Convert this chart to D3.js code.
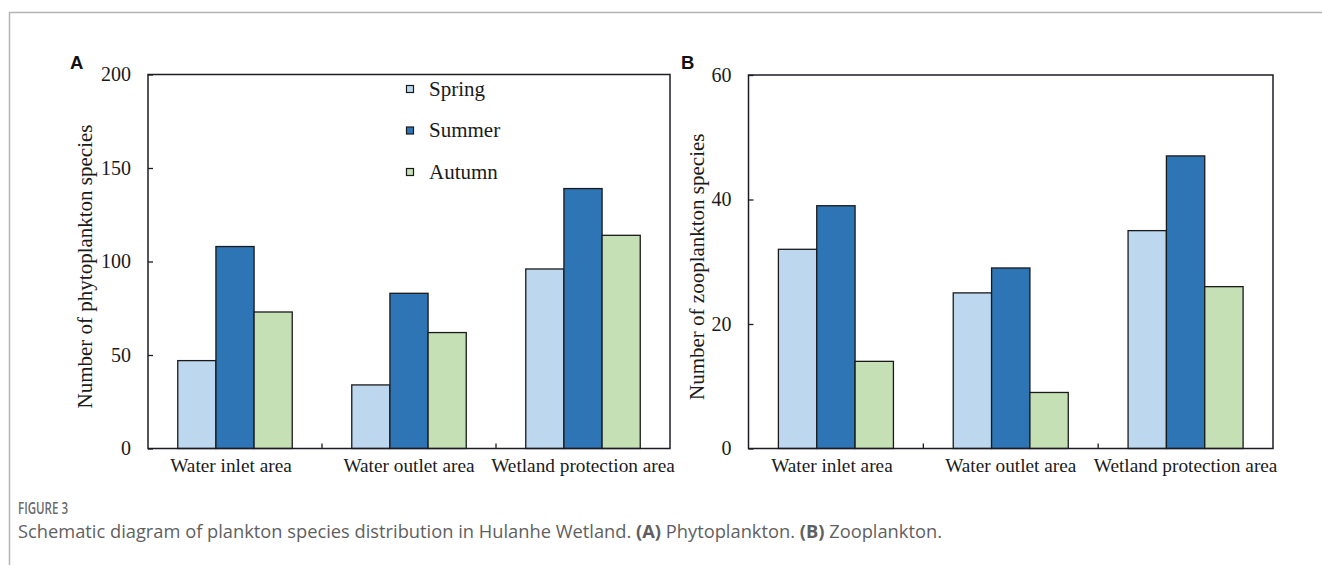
<!DOCTYPE html>
<html>
<head>
<meta charset="utf-8">
<script src="https://cdn.jsdelivr.net/npm/d3@7/dist/d3.min.js"></script>
<style>
  html, body { margin: 0; padding: 0; background: #ffffff; }
  svg { display: block; }
</style>
</head>
<body>
<svg id="fig" width="1322" height="565"></svg>
<script>
// Sampling areas and seasons
const categories = ["Water inlet area", "Water outlet area", "Wetland protection area"];
const seasons = ["Spring", "Summer", "Autumn"];

// Number of phytoplankton species per area
const phytoSpring = [47, 34, 96];
const phytoSummer = [108, 83, 139];
const phytoAutumn = [73, 62, 114];

// Number of zooplankton species per area
const zooSpring = [32, 25, 35];
const zooSummer = [39, 29, 47];
const zooAutumn = [14, 9, 26];

// Axis ticks
const phytoTicks = [0, 50, 100, 150, 200];
const zooTicks = [0, 20, 40, 60];

const seasonColors = ["#bdd7ee", "#2e75b6", "#c5e0b4"];
const serif = "'Liberation Serif', 'Times New Roman', serif";
const axisColor = "#1c1c24";

const svg = d3.select("#fig");

// Page frame
svg.append("line").attr("x1", 9).attr("x2", 1322).attr("y1", 12.5).attr("y2", 12.5)
  .attr("stroke", "#b4b4b4").attr("stroke-width", 1.5);
svg.append("line").attr("x1", 9.5).attr("x2", 9.5).attr("y1", 12).attr("y2", 565)
  .attr("stroke", "#b4b4b4").attr("stroke-width", 1.5);

function drawPanel(opts) {
  const { left, right, top, bottom, series, domainMax, ticks, title, titleX, letter, letterX } = opts;
  const g = svg.append("g");

  const x0 = d3.scaleBand().domain(categories).range([left, right]).padding(0);
  const x1 = d3.scaleBand().domain(seasons).range([0, x0.bandwidth()]).paddingInner(0).paddingOuter(0.78);
  const y = d3.scaleLinear().domain([0, domainMax]).range([bottom, top]);

  // Bars
  const rows = categories.map((c, i) => ({ cat: c, vals: seasons.map((s, j) => ({ s, v: series[j][i], j })) }));
  const grp = g.selectAll("g.grp").data(rows).join("g")
    .attr("transform", d => `translate(${x0(d.cat)},0)`);
  grp.selectAll("rect").data(d => d.vals).join("rect")
    .attr("x", d => x1(d.s))
    .attr("y", d => y(d.v))
    .attr("width", x1.bandwidth())
    .attr("height", d => y(0) - y(d.v))
    .attr("fill", d => seasonColors[d.j])
    .attr("stroke", "#1a1a1a")
    .attr("stroke-width", 1.3);

  // Left axis with inward ticks
  const yAxis = d3.axisLeft(y).tickValues(ticks).tickSize(-5).tickPadding(17).tickFormat(d3.format("d"));
  const ya = g.append("g").attr("transform", `translate(${left},0)`).call(yAxis);
  ya.select(".domain").remove();
  ya.selectAll(".tick line").attr("stroke", axisColor).attr("stroke-width", 1.3);
  ya.selectAll(".tick text").attr("font-family", serif).attr("font-size", 20).attr("fill", "#1a1a1a");

  // Bottom axis: category labels, boundary ticks pointing inward
  const xAxis = d3.axisBottom(x0).tickSize(0).tickPadding(10);
  const xa = g.append("g").attr("transform", `translate(0,${bottom})`).call(xAxis);
  xa.select(".domain").remove();
  xa.selectAll(".tick text").attr("font-family", serif).attr("font-size", 19.3).attr("fill", "#1a1a1a")
    .attr("dx", (d, i) => i === 0 ? -4 : 0);
  g.selectAll("line.bound").data(categories.slice(1)).join("line")
    .attr("class", "bound")
    .attr("x1", d => x0(d)).attr("x2", d => x0(d))
    .attr("y1", bottom).attr("y2", bottom - 5)
    .attr("stroke", axisColor).attr("stroke-width", 1.3);

  // Plot frame
  g.append("rect").attr("x", left).attr("y", top)
    .attr("width", right - left).attr("height", bottom - top)
    .attr("fill", "none").attr("stroke", axisColor).attr("stroke-width", 1.5);

  // Axis title
  g.append("text")
    .attr("transform", `translate(${titleX},${(top + bottom) / 2 + 5}) rotate(-90)`)
    .attr("text-anchor", "middle")
    .attr("font-family", serif).attr("font-size", 21).attr("fill", "#1a1a1a")
    .text(title);

  // Panel letter
  g.append("text").attr("x", letterX).attr("y", 68.5)
    .attr("font-family", "'Liberation Sans', Arial, sans-serif")
    .attr("font-weight", "bold").attr("font-size", 18.5).attr("fill", "#111")
    .text(letter);

  return { x0, y, g };
}

const A = drawPanel({
  left: 148, right: 670, top: 74.5, bottom: 448.5,
  series: [phytoSpring, phytoSummer, phytoAutumn],
  domainMax: 200, ticks: phytoTicks,
  title: "Number of phytoplankton species", titleX: 92,
  letter: "A", letterX: 70
});

drawPanel({
  left: 748.5, right: 1273, top: 75, bottom: 448.5,
  series: [zooSpring, zooSummer, zooAutumn],
  domainMax: 60, ticks: zooTicks,
  title: "Number of zooplankton species", titleX: 704,
  letter: "B", letterX: 681
});

// Legend inside panel A
const legend = A.g.append("g");
const legendY = d3.scalePoint().domain(seasons).range([89, 172]);
seasons.forEach((s, j) => {
  legend.append("rect")
    .attr("x", 406.5).attr("y", legendY(s) - 3.5)
    .attr("width", 7).attr("height", 7)
    .attr("fill", seasonColors[j]).attr("stroke", "#1a1a1a").attr("stroke-width", 1.2);
  legend.append("text")
    .attr("x", 429).attr("y", legendY(s) + 6.5)
    .attr("font-family", serif).attr("font-size", 21).attr("fill", "#1a1a1a")
    .text(s);
});

// Figure caption
svg.append("text").attr("x", 18).attr("y", 514)
  .attr("font-family", "'Open Sans', sans-serif").attr("font-weight", 600)
  .attr("font-size", 15.5).attr("fill", "#6b6b6b")
  .attr("textLength", 50).attr("lengthAdjust", "spacingAndGlyphs")
  .text("FIGURE 3");

const cap = svg.append("text").attr("x", 18).attr("y", 538)
  .attr("font-family", "'Open Sans', sans-serif").attr("font-size", 18.3).attr("fill", "#5f5f5f");
cap.append("tspan").text("Schematic diagram of plankton species distribution in Hulanhe Wetland. ");
cap.append("tspan").attr("font-weight", 700).text("(A)");
cap.append("tspan").text(" Phytoplankton. ");
cap.append("tspan").attr("font-weight", 700).text("(B)");
cap.append("tspan").text(" Zooplankton.");
</script>
</body>
</html>
